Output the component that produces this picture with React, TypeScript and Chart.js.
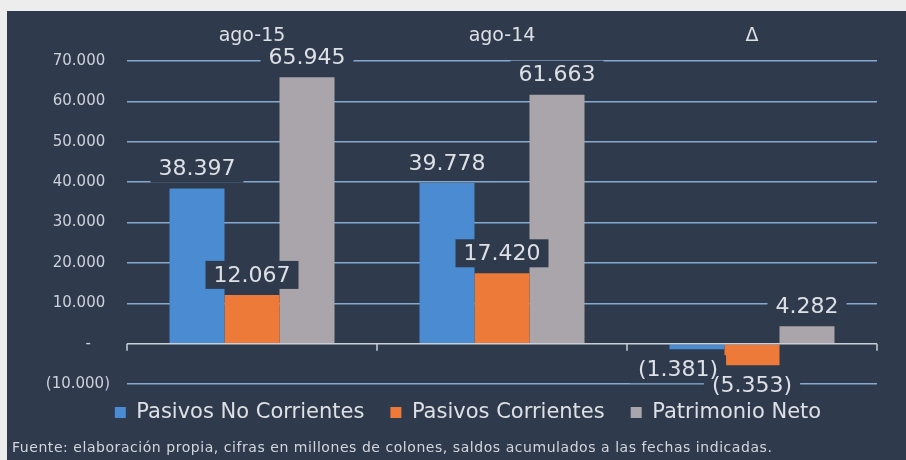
import React, { useEffect, useRef } from "react";
import { Chart, registerables } from "chart.js";

Chart.register(...registerables);

// ---- data ----
const categories = ["ago-15", "ago-14", "Δ"];
const seriesNames = ["Pasivos No Corrientes", "Pasivos Corrientes", "Patrimonio Neto"];
const pasivosNoCorrientes = [38397, 39778, -1381];
const pasivosCorrientes = [12067, 17420, -5353];
const patrimonioNeto = [65945, 61663, 4282];
const yMin = -10000;
const yMax = 70000;
const yStep = 10000;
const footerText =
  "Fuente: elaboración propia, cifras en millones de colones, saldos acumulados a las fechas indicadas.";

// ---- style ----
const FONT = "'DejaVu Sans', sans-serif";
const PANEL = "#2f3a4d";
const PAGE = "#ededed";
const TEXT = "#dde0e5";
const COLORS = ["#4b8bd1", "#ee7a3a", "#aaa5aa"];

const thousands = (n: number) =>
  String(Math.round(n)).replace(/\B(?=(\d{3})+(?!\d))/g, ".");
const fmt = (v: number) => (v < 0 ? `(${thousands(-v)})` : thousands(v));
// accounting style axis labels: positives keep a trailing space where ")" would be
const axisFmt = (v: number) => (v === 0 ? "-    " : v < 0 ? fmt(v) : fmt(v) + " ");

const valueLabels = {
  id: "valueLabels",
  afterDatasetsDraw(chart: any) {
    const ctx = chart.ctx;
    ctx.save();
    ctx.font = `22px ${FONT}`;
    ctx.textAlign = "center";
    ctx.textBaseline = "middle";
    const items: { x: number; y: number; text: string; w: number }[] = [];
    chart.data.datasets.forEach((ds: any, di: number) => {
      const meta = chart.getDatasetMeta(di);
      meta.data.forEach((el: any, i: number) => {
        const v = ds.data[i] as number;
        const text = fmt(v);
        // nudge the small negative label left so it does not collide with its neighbour
        const dx = v < 0 && di === 0 ? -19 : 0;
        const y = v < 0 ? el.y + 20 : el.y - 20;
        items.push({ x: el.x + dx, y, text, w: ctx.measureText(text).width + 16 });
      });
    });
    const h = 28;
    ctx.fillStyle = PANEL;
    items.forEach((it) => ctx.fillRect(it.x - it.w / 2, it.y - h / 2, it.w, h));
    ctx.fillStyle = TEXT;
    items.forEach((it) => ctx.fillText(it.text, it.x, it.y + 1));
    ctx.restore();
  },
};

const zeroAxis = {
  id: "zeroAxis",
  afterDatasetsDraw(chart: any) {
    const { ctx, chartArea } = chart;
    const xs = chart.scales.x;
    const ys = chart.scales.y;
    const y0 = ys.getPixelForValue(0);
    ctx.save();
    ctx.strokeStyle = "#c9cfd8";
    ctx.lineWidth = 1.5;
    ctx.beginPath();
    ctx.moveTo(chartArea.left, y0);
    ctx.lineTo(chartArea.right, y0);
    const n = categories.length;
    for (let i = 0; i <= n; i++) {
      let x: number;
      if (i === 0) x = chartArea.left;
      else if (i === n) x = chartArea.right;
      else x = (xs.getPixelForValue(i - 1) + xs.getPixelForValue(i)) / 2;
      ctx.moveTo(x, y0);
      ctx.lineTo(x, y0 + 7);
    }
    ctx.stroke();
    ctx.restore();
  },
};

const legendNudge = {
  id: "legendNudge",
  afterLayout(chart: any) {
    const l = chart.legend;
    if (l) {
      l.top -= 8;
      l.bottom -= 8;
    }
  },
};

export default function App() {
  const ref = useRef<HTMLCanvasElement | null>(null);

  useEffect(() => {
    if (!ref.current) return;
    const chart = new Chart(ref.current, {
      type: "bar",
      data: {
        labels: categories,
        datasets: [pasivosNoCorrientes, pasivosCorrientes, patrimonioNeto].map((d, i) => ({
          label: seriesNames[i],
          data: d,
          backgroundColor: COLORS[i],
          borderWidth: 0,
          categoryPercentage: 0.66,
          barPercentage: 1.0,
        })),
      },
      options: {
        animation: false,
        responsive: true,
        maintainAspectRatio: false,
        layout: { padding: { left: 33, right: 10, top: 0, bottom: 19 } },
        scales: {
          x: {
            position: "top",
            grid: { display: false, drawTicks: false },
            border: { display: false },
            ticks: { color: TEXT, font: { size: 19, family: FONT }, padding: 14 },
            afterFit(s: any) {
              s.height = 50;
            },
          },
          y: {
            min: yMin,
            max: yMax,
            border: { display: false },
            grid: {
              drawTicks: false,
              color: (c: any) => (c.tick && c.tick.value === 0 ? "rgba(0,0,0,0)" : "#86a9cf"),
              lineWidth: 1.5,
            },
            ticks: {
              stepSize: yStep,
              color: "#cdd1d8",
              font: { size: 15, family: FONT },
              padding: 17,
              callback: (v: any) => axisFmt(Number(v)),
            },
            afterFit(s: any) {
              s.width = 87;
            },
          },
          y2: {
            position: "right",
            min: yMin,
            max: yMax,
            grid: { display: false, drawTicks: false },
            border: { display: false },
            ticks: { display: false },
            afterFit(s: any) {
              s.width = 19;
            },
          },
        },
        plugins: {
          legend: {
            position: "bottom",
            labels: {
              color: TEXT,
              font: { size: 21, family: FONT },
              boxWidth: 11,
              boxHeight: 11,
              padding: 26,
            },
          },
          title: { display: false },
          tooltip: { enabled: false },
        },
      },
      plugins: [zeroAxis, valueLabels, legendNudge],
    });
    return () => chart.destroy();
  }, []);

  return (
    <div
      style={{
        position: "fixed",
        left: 0,
        top: 0,
        width: 906,
        height: 460,
        background: PAGE,
        overflow: "hidden",
      }}
    >
      <div
        style={{
          position: "absolute",
          left: 7,
          top: 11,
          width: 899,
          height: 449,
          background: PANEL,
        }}
      >
        <canvas ref={ref} />
        <div
          style={{
            position: "absolute",
            left: 5,
            top: 427,
            lineHeight: "18px",
            fontFamily: FONT,
            fontSize: 14,
            letterSpacing: "0.55px",
            color: "#d3d7dd",
            whiteSpace: "nowrap",
          }}
        >
          {footerText}
        </div>
      </div>
    </div>
  );
}
